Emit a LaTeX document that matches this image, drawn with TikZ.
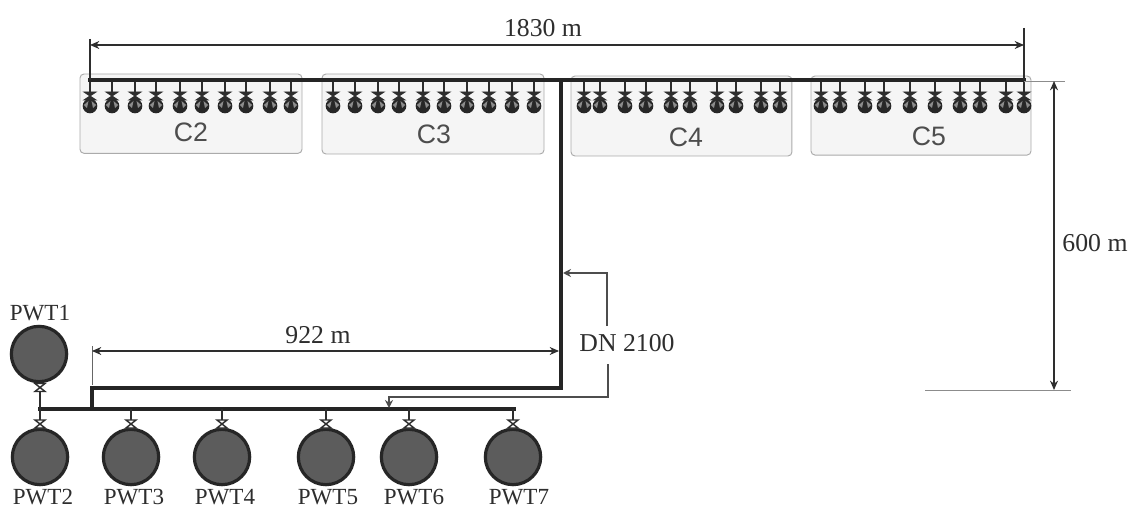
\documentclass[tikz,border=0pt]{standalone}
\usepackage{fontspec}
\setmainfont{Liberation Serif}
\newfontfamily\boxfont{Liberation Sans}
\usetikzlibrary{arrows.meta}
\definecolor{ink}{HTML}{2E2E2E}
\definecolor{tankgrey}{HTML}{5C5C5C}
\definecolor{wellgrey}{HTML}{8C8C8C}
\definecolor{boxfill}{HTML}{F5F5F5}
\definecolor{boxline}{HTML}{ABABAB}
\tikzset{
  x=0.75pt,y=-0.75pt,
  pipe/.style={draw=ink!80!black,line width=3pt,line cap=rect,line join=miter},
  stub/.style={draw=ink,line width=2.1pt},
  thinline/.style={draw=ink,line width=0.8pt},
  hair/.style={draw=black!45,line width=0.6pt},
  dimline/.style={draw=ink,line width=0.9pt,{Stealth[length=7pt,width=6pt]}-{Stealth[length=7pt,width=6pt]}},
  leader/.style={draw=ink!85,line width=0.9pt,-{Stealth[length=6pt,width=6pt]}},
  tank/.style={circle,draw=black!85,fill=tankgrey,line width=2.4pt,minimum size=41.5pt,inner sep=0pt,outer sep=0pt},
  wellbulb/.style={circle,fill=ink!85!black,minimum size=11pt,inner sep=0pt,outer sep=0pt},
  fieldbox/.style={draw=boxline,fill=boxfill,line width=0.7pt,rounded corners=3pt,inner sep=0pt,outer sep=0pt,anchor=north west},
  fieldlabel/.style={font=\boxfont\fontsize{20pt}{22pt}\selectfont,text=ink!85},
  plabel/.style={font=\fontsize{17.3pt}{18pt}\selectfont,text=ink,inner sep=0pt},
  dimlabel/.style={font=\fontsize{19.3pt}{20pt}\selectfont,text=ink,inner sep=0pt},
  valveopen/.style={draw=ink,fill=white,line width=1.1pt},
  valveshut/.style={draw=ink,fill=ink,line width=0.7pt}
}
\newcommand{\valvetie}[4]{% x, top y, half width, style
  \path[#4] (#1-#3,#2) -- (#1+#3,#2) -- (#1-#3,#2+8) -- (#1+#3,#2+8) -- cycle;}
\begin{document}
\begin{tikzpicture}
\useasboundingbox (0,0) rectangle (1130,509);
\fill[white] (0,0) rectangle (1130,509);
% field boxes
\node[fieldbox,minimum width=166.5pt,minimum height=59.5pt] (c2) at (80,74) {};
\node[fieldbox,minimum width=166.5pt,minimum height=60pt] (c3) at (322,74) {};
\node[fieldbox,minimum width=165.7pt,minimum height=60pt] (c4) at (571,76) {};
\node[fieldbox,minimum width=165pt,minimum height=59.3pt] (c5) at (811,76) {};
\node[fieldlabel] (lc2) at (191,132) {C2};
\node[fieldlabel] (lc3) at (434,134) {C3};
\node[fieldlabel] (lc4) at (686,137) {C4};
\node[fieldlabel] (lc5) at (929,136) {C5};
% collector coordinates
\coordinate (mainL) at (90,80);
\coordinate (mainR) at (1024,80);
\coordinate (mainT) at (561,80);
\coordinate (mainB) at (561,388);
\coordinate (lowL) at (92,388);
\coordinate (headJ) at (92,409);
\coordinate (headL) at (40,409);
\coordinate (headR) at (514,409);
% wells
\foreach \i/\wx in {1/90,2/112,3/135,4/156,5/180,6/202,7/225,8/246,9/270,10/291,
  11/333,12/355,13/378,14/399,15/423,16/444,17/467,18/489,19/512,20/534,
  21/584,22/600,23/625,24/646,25/671,26/690,27/717,28/736,29/761,30/780,
  31/821,32/840,33/865,34/884,35/910,36/935,37/960,38/980,39/1006,40/1024}{
  \coordinate (wtop\i) at (\wx,80);
  \node[wellbulb] (well\i) at (\wx,106) {};
  \draw[stub] (wtop\i) -- (\wx,92);
  \valvetie{\wx}{92}{6}{valveshut}
  \fill[wellgrey] (\wx-6.2,105) -- (\wx-1.5,101) -- (\wx-3,108) -- cycle;
  \fill[wellgrey] (\wx+6.2,105) -- (\wx+1.5,101) -- (\wx+3,108) -- cycle;
}
% pipes
\draw[pipe] (mainL) -- (mainR);
\draw[pipe] (mainT) -- (mainB) -- (lowL) -- (headJ);
\draw[pipe] (headL) -- (headR);
% tanks
\node[tank] (pwt1) at (39,354) {};
\foreach \n/\tx in {2/40,3/131,4/222,5/326,6/409,7/513}{
  \node[tank] (pwt\n) at (\tx,457) {};
}
\draw[stub] (headL) -- (40,392);
\valvetie{40}{383.5}{5}{valveopen}
\foreach \n/\tx in {2/40,3/131,4/222,5/326,6/409,7/513}{
  \draw[stub] (\tx,409) -- (\tx,420);
  \valvetie{\tx}{420}{5}{valveopen}
}
% tank labels
\node[plabel] (l1) at (40,313) {PWT1};
\node[plabel] (l2) at (43,497) {PWT2};
\node[plabel] (l3) at (134,497) {PWT3};
\node[plabel] (l4) at (225,497) {PWT4};
\node[plabel] (l5) at (328,497) {PWT5};
\node[plabel] (l6) at (414,497) {PWT6};
\node[plabel] (l7) at (519,497) {PWT7};
% dimensions
\coordinate (d1a) at (90,45);
\coordinate (d1b) at (1024,45);
\draw[thinline] (90,39) -- (mainL);
\draw[thinline] (1024,28) -- (mainR);
\draw[dimline] (d1a) -- (d1b);
\node[dimlabel] (t1830) at (543,28) {1830 m};
\coordinate (d2a) at (1054,81);
\coordinate (d2b) at (1054,390);
\draw[hair] (1024,81) -- (1065,81);
\draw[hair] (925,390) -- (1071,390);
\draw[dimline] (d2a) -- (d2b);
\node[dimlabel] (t600) at (1095,243) {600 m};
\coordinate (d3a) at (92,351);
\coordinate (d3b) at (559,351);
\draw[hair,draw=black!60] (92,346) -- (92,385);
\draw[dimline] (d3a) -- (d3b);
\node[dimlabel] (t922) at (318,335) {922 m};
% DN 2100 leaders
\node[dimlabel] (dn) at (627,343) {DN 2100};
\coordinate (leadA) at (607,273);
\coordinate (leadAe) at (563,273);
\coordinate (leadB) at (608,397);
\coordinate (leadBc) at (389,397);
\coordinate (leadBe) at (389,408);
\draw[leader] (607,326) -- (leadA) -- (leadAe);
\draw[leader] (608,364) -- (leadB) -- (leadBc) -- (leadBe);
\end{tikzpicture}
\end{document}
